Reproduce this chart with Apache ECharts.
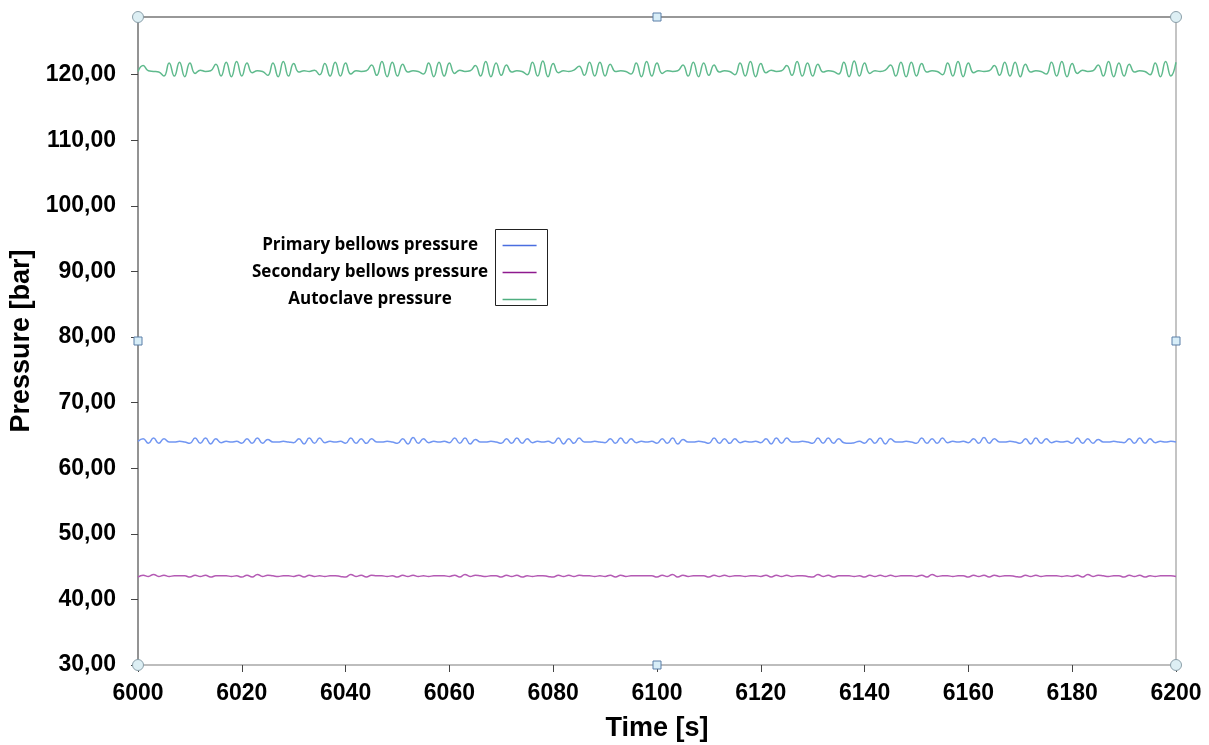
<!DOCTYPE html>
<html>
<head>
<meta charset="utf-8">
<title>Pressure</title>
<script src="https://cdn.jsdelivr.net/npm/echarts@6/dist/echarts.min.js"></script>
<style>
  html, body { margin: 0; padding: 0; background: #fff; }
  #chart { width: 1209px; height: 745px; }
</style>
</head>
<body>
<div id="chart"></div>
<script>
var seriesNames = ['Primary bellows pressure', 'Secondary bellows pressure', 'Autoclave pressure']
var timeStart = 6000
var timeStep = 1
var yMin = 30
var yMax = 128.8

// one sample per second, 6000 .. 6200 s
var primary = [
  64.1, 64.5, 63.8, 64.6, 63.8, 64.5, 64.0, 64.0, 64.1, 64.0,
  63.8, 64.6, 63.8, 64.6, 63.7, 64.5, 63.9, 64.1, 64.0, 64.1,
  63.8, 64.5, 63.8, 64.6, 63.8, 64.4, 64.0, 64.0, 64.1, 64.0,
  63.9, 64.5, 63.7, 64.6, 63.8, 64.6, 63.9, 64.1, 64.0, 64.1,
  63.8, 64.6, 63.8, 64.5, 63.8, 64.5, 64.0, 64.0, 64.1, 64.0,
  63.8, 64.5, 63.7, 64.7, 63.8, 64.5, 63.9, 64.1, 64.0, 64.1,
  63.9, 64.6, 63.8, 64.6, 63.7, 64.4, 64.0, 64.0, 64.1, 64.0,
  63.8, 64.5, 63.8, 64.6, 63.8, 64.5, 63.9, 64.1, 64.0, 64.1,
  63.8, 64.6, 63.7, 64.5, 63.8, 64.6, 64.0, 64.0, 64.1, 64.0,
  63.9, 64.5, 63.8, 64.6, 63.8, 64.5, 63.9, 64.1, 64.0, 64.1,
  63.8, 64.5, 63.8, 64.6, 63.7, 64.4, 64.0, 64.0, 64.1, 64.0,
  63.8, 64.6, 63.8, 64.5, 63.8, 64.5, 63.9, 64.1, 64.0, 64.1,
  63.9, 64.5, 63.7, 64.6, 63.8, 64.6, 64.0, 64.0, 64.1, 64.0,
  63.8, 64.6, 63.8, 64.6, 63.8, 64.5, 63.9, 63.8, 63.9, 64.1,
  63.8, 64.5, 63.8, 64.6, 63.7, 64.5, 64.0, 64.0, 64.1, 64.0,
  63.8, 64.6, 63.8, 64.5, 63.8, 64.6, 63.9, 64.1, 64.0, 64.1,
  63.9, 64.5, 63.8, 64.7, 63.8, 64.5, 64.0, 64.0, 64.1, 64.0,
  63.8, 64.5, 63.7, 64.6, 63.8, 64.5, 63.9, 64.1, 64.0, 64.1,
  63.8, 64.6, 63.8, 64.5, 63.8, 64.4, 64.0, 64.0, 64.1, 64.0,
  63.9, 64.5, 63.8, 64.6, 63.8, 64.5, 63.9, 64.1, 64.0, 64.1,
  64.0
]
var secondary = [
  43.4, 43.7, 43.5, 43.8, 43.5, 43.7, 43.5, 43.6, 43.6, 43.6,
  43.4, 43.7, 43.5, 43.7, 43.4, 43.6, 43.6, 43.6, 43.5, 43.6,
  43.4, 43.7, 43.4, 43.8, 43.5, 43.7, 43.6, 43.5, 43.6, 43.6,
  43.5, 43.7, 43.4, 43.7, 43.5, 43.6, 43.5, 43.6, 43.6, 43.5,
  43.4, 43.8, 43.5, 43.7, 43.4, 43.7, 43.6, 43.6, 43.5, 43.6,
  43.4, 43.7, 43.5, 43.7, 43.5, 43.6, 43.5, 43.6, 43.6, 43.6,
  43.5, 43.7, 43.4, 43.8, 43.5, 43.7, 43.6, 43.5, 43.6, 43.6,
  43.4, 43.7, 43.5, 43.7, 43.4, 43.6, 43.5, 43.6, 43.6, 43.5,
  43.4, 43.7, 43.5, 43.7, 43.5, 43.7, 43.6, 43.6, 43.5, 43.6,
  43.5, 43.7, 43.4, 43.7, 43.5, 43.6, 43.6, 43.6, 43.6, 43.6,
  43.4, 43.7, 43.5, 43.8, 43.4, 43.7, 43.5, 43.6, 43.6, 43.6,
  43.4, 43.7, 43.5, 43.7, 43.5, 43.6, 43.6, 43.5, 43.6, 43.6,
  43.5, 43.7, 43.4, 43.7, 43.5, 43.7, 43.5, 43.6, 43.6, 43.5,
  43.4, 43.8, 43.5, 43.7, 43.4, 43.6, 43.6, 43.6, 43.5, 43.6,
  43.4, 43.7, 43.5, 43.7, 43.5, 43.7, 43.5, 43.6, 43.6, 43.6,
  43.5, 43.7, 43.4, 43.8, 43.5, 43.6, 43.6, 43.5, 43.6, 43.6,
  43.4, 43.7, 43.5, 43.7, 43.4, 43.7, 43.5, 43.6, 43.6, 43.5,
  43.4, 43.7, 43.5, 43.7, 43.5, 43.6, 43.6, 43.6, 43.5, 43.6,
  43.5, 43.7, 43.4, 43.8, 43.5, 43.7, 43.6, 43.5, 43.6, 43.6,
  43.4, 43.7, 43.5, 43.7, 43.4, 43.6, 43.5, 43.6, 43.6, 43.6,
  43.5
]
var autoclave = [
  120.5, 121.4, 120.6, 120.5, 120.4, 119.8, 121.8, 119.8, 121.9, 119.7,
  121.8, 120.2, 120.7, 120.5, 120.6, 121.6, 119.8, 121.9, 119.7, 122.0,
  119.8, 121.8, 120.3, 120.6, 120.5, 119.9, 121.8, 119.7, 122.0, 119.8,
  121.7, 120.4, 120.6, 120.5, 120.7, 120.0, 121.7, 119.8, 121.9, 119.8,
  121.8, 120.1, 120.6, 120.5, 120.6, 121.5, 119.9, 122.0, 119.7, 121.9,
  119.8, 121.6, 120.4, 120.6, 120.5, 120.1, 121.8, 119.7, 121.9, 119.8,
  121.8, 120.2, 120.7, 120.5, 120.6, 121.4, 119.8, 122.0, 119.7, 121.8,
  119.9, 121.5, 120.4, 120.6, 120.5, 120.0, 121.9, 119.8, 122.1, 119.7,
  121.7, 120.3, 120.6, 120.5, 120.7, 121.3, 119.9, 121.9, 119.8, 121.9,
  119.8, 121.6, 120.5, 120.6, 120.5, 120.1, 121.8, 119.7, 122.0, 119.8,
  121.8, 120.2, 120.6, 120.5, 120.6, 121.5, 119.8, 121.9, 119.7, 121.8,
  119.9, 121.5, 120.4, 120.6, 120.5, 120.0, 121.8, 119.8, 122.0, 119.7,
  121.7, 120.3, 120.7, 120.5, 120.6, 121.4, 119.9, 122.0, 119.8, 121.8,
  119.8, 121.6, 120.4, 120.6, 120.5, 120.1, 121.9, 119.7, 122.1, 119.8,
  121.8, 120.2, 120.6, 120.5, 120.7, 121.5, 119.8, 121.9, 119.7, 121.9,
  119.8, 121.7, 120.4, 120.6, 120.5, 120.0, 121.8, 119.8, 122.0, 119.7,
  121.8, 120.3, 120.6, 120.5, 120.6, 121.4, 119.9, 121.9, 119.8, 121.9,
  119.7, 121.6, 120.4, 120.6, 120.5, 120.1, 121.9, 119.8, 122.0, 119.7,
  121.7, 120.2, 120.7, 120.5, 120.6, 121.5, 119.8, 122.0, 119.7, 121.8,
  119.8, 121.6, 120.4, 120.6, 120.5, 120.0, 121.8, 119.7, 122.0, 119.8,
  121.9
]

var colors = ['#7196f2', '#b45ab4', '#5fba8d']
var legendColors = ['#4a6ee0', '#8e1a8e', '#4fae80']
var labelFont = 'Liberation Sans, Arial, sans-serif'

function toPairs(values) {
  return values.map(function(v, i) {
    return [timeStart + i * timeStep, v]
  })
}

function commaLabel(v) {
  return v.toFixed(2).replace('.', ',')
}

// selection handles of the original screenshot (corners round, midpoints square)
var yMid = (yMin + yMax) / 2
var handleCircle = { symbol: 'circle', symbolSize: 11, itemStyle: { color: '#ddeff4', borderColor: '#8a9ea8', borderWidth: 1 } }
var handleSquare = { symbol: 'rect', symbolSize: 8, itemStyle: { color: '#d8eef8', borderColor: '#5a7fa8', borderWidth: 1 } }
var handles = [
  [timeStart, yMin, handleCircle], [timeStart, yMax, handleCircle],
  [6200, yMax, handleCircle], [6200, yMin, handleCircle],
  [6100, yMax, handleSquare], [6100, yMin, handleSquare],
  [timeStart, yMid, handleSquare], [6200, yMid, handleSquare]
].map(function(h) {
  return Object.assign({ coord: [h[0], h[1]] }, h[2])
})

var chart = echarts.init(document.getElementById('chart'), null, { renderer: 'canvas' })

chart.setOption({
  animation: false,
  grid: {
    left: 138,
    right: 33,
    top: 17,
    bottom: 80,
    outerBoundsMode: 'none'
  },
  legend: {
    data: seriesNames.map(function(n, i) {
      return { name: n, itemStyle: { color: legendColors[i] } }
    }),
    orient: 'vertical',
    left: 252,
    top: 237,
    padding: 0,
    align: 'right',
    icon: 'rect',
    itemWidth: 34,
    itemHeight: 1.5,
    itemGap: 10,
    selectedMode: false,
    formatter: function(name) {
      return '{t|' + name + '}'
    },
    textStyle: {
      rich: {
        t: {
          width: 255,
          align: 'center',
          fontSize: 17,
          fontWeight: 'bold',
          fontFamily: 'Open Sans, sans-serif',
          color: '#000'
        }
      }
    }
  },
  graphic: [{
    type: 'rect',
    left: 493,
    top: 227,
    shape: { width: 52, height: 76 },
    style: { fill: 'none', stroke: '#222', lineWidth: 1 },
    silent: true
  }],
  xAxis: [{
    type: 'value',
    min: 6000,
    max: 6200,
    interval: 20,
    name: 'Time [s]',
    nameLocation: 'middle',
    nameGap: 50,
    nameTextStyle: { fontSize: 27, fontWeight: 'bold', fontFamily: labelFont, color: '#000' },
    axisLine: { lineStyle: { color: '#a8a8a8', width: 1.5 } },
    axisTick: { length: 7, lineStyle: { color: '#444' } },
    axisLabel: {
      margin: 17,
      fontSize: 23,
      fontWeight: 'bold',
      fontFamily: labelFont,
      color: '#000',
      formatter: function(v) {
        return String(v)
      }
    },
    splitLine: { show: false }
  }, {
    type: 'value',
    position: 'top',
    min: 6000,
    max: 6200,
    axisLine: { show: true, lineStyle: { color: '#777', width: 1.5 } },
    axisTick: { show: false },
    axisLabel: { show: false },
    splitLine: { show: false }
  }],
  yAxis: [{
    type: 'value',
    min: yMin,
    max: yMax,
    interval: 10,
    name: 'Pressure [bar]',
    nameLocation: 'middle',
    nameGap: 98,
    nameTextStyle: { fontSize: 27, fontWeight: 'bold', fontFamily: labelFont, color: '#000' },
    axisLine: { show: true, lineStyle: { color: '#6f6f6f', width: 1.5 } },
    axisTick: { show: true, length: 7, lineStyle: { color: '#444' } },
    axisLabel: {
      margin: 22,
      showMaxLabel: false,
      fontSize: 23,
      fontWeight: 'bold',
      fontFamily: labelFont,
      color: '#000',
      formatter: commaLabel
    },
    splitLine: { show: false }
  }, {
    type: 'value',
    position: 'right',
    min: yMin,
    max: yMax,
    axisLine: { show: true, lineStyle: { color: '#b0b0b0', width: 1.5 } },
    axisTick: { show: false },
    axisLabel: { show: false },
    splitLine: { show: false }
  }],
  series: [{
    name: seriesNames[0],
    type: 'line',
    data: toPairs(primary),
    smooth: 0.5,
    symbol: 'none',
    color: colors[0],
    lineStyle: { width: 1.5 }
  }, {
    name: seriesNames[1],
    type: 'line',
    data: toPairs(secondary),
    smooth: 0.5,
    symbol: 'none',
    color: colors[1],
    lineStyle: { width: 1.5 }
  }, {
    name: seriesNames[2],
    type: 'line',
    data: toPairs(autoclave),
    smooth: 0.5,
    symbol: 'none',
    color: colors[2],
    lineStyle: { width: 1.5 }
  }, {
    name: 'handles',
    type: 'line',
    data: [],
    z: 10,
    markPoint: {
      silent: true,
      label: { show: false },
      data: handles
    }
  }]
})
</script>
</body>
</html>
